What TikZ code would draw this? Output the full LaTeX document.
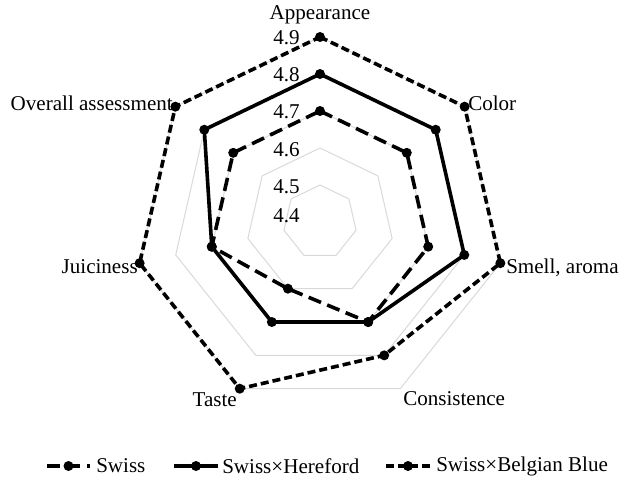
\documentclass[tikz,border=0pt]{standalone}
\usepackage{fontspec}
\setmainfont{Liberation Serif}
\usetikzlibrary{calc}

\tikzset{
  ring/.style={draw={rgb, 255:red, 217; green, 217; blue, 217 },line width=0.75},
  series/.style={draw={rgb, 255:red, 0; green, 0; blue, 0 },line width=2.7,line join=round},
  swiss/.style={series,dash pattern=on 10pt off 5pt},
  hereford/.style={series},
  belgian/.style={series,dash pattern=on 6pt off 3pt},
  dot/.style={fill={rgb, 255:red, 0; green, 0; blue, 0 }},
  txt/.style={inner sep=0.75pt,font=\fontsize{15.8}{18}\selectfont},
}

\begin{document}
\begin{tikzpicture}[x=0.75pt,y=0.75pt,yscale=-1,xscale=1]
\useasboundingbox (0,0) rectangle (625,480);

%Center of the chart
\coordinate (O) at (320,222);

%Grid rings 4.5 ... 4.9
\begin{scope}[shift={(O)}]
\foreach \r in {37,74,111,148,185}
  \draw [ring] (-90:\r) \foreach \k in {1,...,6}{ -- ({-90+\k*360/7}:\r)} -- cycle ;

%Series points
\foreach \v [count=\i] in {4.7,4.7,4.7,4.7,4.6,4.7,4.7}
  \coordinate (sw\i) at ({-90+(\i-1)*360/7}:{(\v-4.4)*370}) ;
\foreach \v [count=\i] in {4.8,4.8,4.8,4.7,4.7,4.7,4.8}
  \coordinate (he\i) at ({-90+(\i-1)*360/7}:{(\v-4.4)*370}) ;
\foreach \v [count=\i] in {4.9,4.9,4.9,4.8,4.9,4.9,4.9}
  \coordinate (bb\i) at ({-90+(\i-1)*360/7}:{(\v-4.4)*370}) ;
\end{scope}

%Scale labels
\foreach \t/\y in {4.4/216,4.5/187,4.6/150,4.7/112,4.8/75,4.9/38}
  \node [txt,anchor=east] (sc\t) at (301,\y) {\t};

%Series lines
\draw [belgian] (bb1) \foreach \i in {2,...,7}{ -- (bb\i)} -- cycle ;
\draw [hereford] (he1) \foreach \i in {2,...,7}{ -- (he\i)} -- cycle ;
\draw [swiss] (sw1) \foreach \i in {2,...,7}{ -- (sw\i)} -- cycle ;
\foreach \i in {1,...,7}{
  \fill [dot] (bb\i) circle (5) ;
  \fill [dot] (he\i) circle (5) ;
  \fill [dot] (sw\i) circle (5) ;
}

% Text Node
\node [txt,anchor=south] (appearance) at (320,25) {Appearance};
\node [txt,anchor=west] (color) at (467,103) {Color};
\node [txt,anchor=west] (smell) at (505,268) {Smell, aroma};
\node [txt,anchor=north west] (consistence) at (402,390) {Consistence};
\node [txt,anchor=east] (taste) at (238,400) {Taste};
\node [txt,anchor=east] (juiciness) at (139,267) {Juiciness};
\node [txt,anchor=east] (overall) at (174,103) {Overall assessment};

%Legend
\coordinate (lgswA) at (47,466) ;
\coordinate (lgswB) at (90,466) ;
\coordinate (lgheA) at (174,466) ;
\coordinate (lgheB) at (218,466) ;
\coordinate (lgbbA) at (386,466) ;
\coordinate (lgbbB) at (430,466) ;
\draw [swiss] (lgswA) -- (lgswB) ;
\fill [dot] ($(lgswA)!0.5!(lgswB)$) circle (5) ;
\draw [hereford] (lgheA) -- (lgheB) ;
\fill [dot] ($(lgheA)!0.5!(lgheB)$) circle (5) ;
\draw [belgian] (lgbbA) -- (lgbbB) ;
\fill [dot] ($(lgbbA)!0.5!(lgbbB)$) circle (5) ;
\node [txt,anchor=west] (lgsw) at (95,466) {Swiss};
\node [txt,anchor=west] (lghe) at (221,466) {Swiss×Hereford};
\node [txt,anchor=west] (lgbb) at (435,466) {Swiss×Belgian Blue};

\end{tikzpicture}
\end{document}
